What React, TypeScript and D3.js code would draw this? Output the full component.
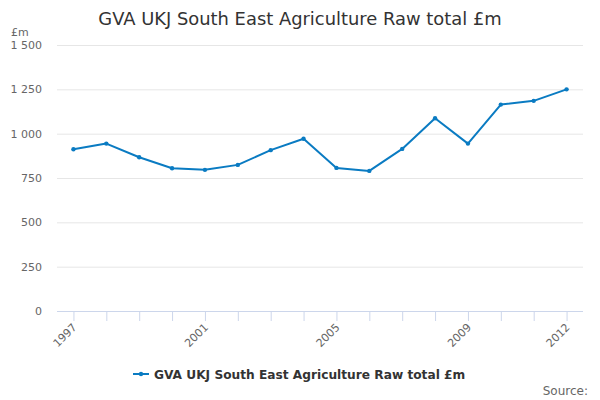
import React from 'react';
import * as d3 from 'd3';

const years = [1997, 1998, 1999, 2000, 2001, 2002, 2003, 2004, 2005, 2006, 2007, 2008, 2009, 2010, 2011, 2012];
const values = [912, 944, 867, 805, 796, 824, 907, 971, 807, 790, 914, 1087, 944, 1164, 1185, 1250];
const labelYears = [1997, 2001, 2005, 2009, 2012];
const yTicks = [0, 250, 500, 750, 1000, 1250, 1500];
const title = 'GVA UKJ South East Agriculture Raw total £m';

const font = '"DejaVu Sans", sans-serif';
const blue = '#0a7bc2';

const fmt = (v: number) => d3.format(',')(v).replace(/,/g, ' ');

export default function App() {
  const margin = { top: 45, right: 17, bottom: 89, left: 57 };
  const width = 600;
  const height = 400;

  const x = d3
    .scalePoint<number>()
    .domain(years)
    .range([margin.left, width - margin.right])
    .padding(0.5);
  const y = d3
    .scaleLinear()
    .domain([0, 1500])
    .range([height - margin.bottom, margin.top]);

  const line = d3
    .line<number>()
    .x((_, i) => x(years[i]) as number)
    .y((d) => y(d));

  const base = y(0);

  return (
    <svg
      width={width}
      height={height}
      style={{ position: 'absolute', left: 0, top: 0, fontFamily: font }}
    >
      <rect width={width} height={height} fill="#fff" />
      <text x={300} y={25} textAnchor="middle" fontSize={17.9} fill="#333">
        {title}
      </text>
      <text x={11} y={36} fontSize={11} fill="#666">
        £m
      </text>

      {yTicks.map((t) => (
        <g key={t}>
          {t > 0 && (
            <line
              x1={margin.left}
              x2={width - margin.right}
              y1={y(t) + 0.5}
              y2={y(t) + 0.5}
              stroke="#e6e6e6"
            />
          )}
          <text x={42} y={y(t) + 4} textAnchor="end" fontSize={11} fill="#666">
            {fmt(t)}
          </text>
        </g>
      ))}

      <line x1={margin.left} x2={width - margin.right} y1={base + 0.5} y2={base + 0.5} stroke="#ccd6eb" />
      {years.map((yr) => (
        <line
          key={yr}
          x1={(x(yr) as number) + 0.5}
          x2={(x(yr) as number) + 0.5}
          y1={base}
          y2={base + 10}
          stroke="#ccd6eb"
        />
      ))}
      {labelYears.map((yr) => {
        const px = x(yr) as number;
        return (
          <text
            key={yr}
            transform={`translate(${px + 4},${base + 17}) rotate(-45)`}
            textAnchor="end"
            fontSize={11}
            fill="#666"
          >
            {yr}
          </text>
        );
      })}

      <path d={line(values) || ''} fill="none" stroke={blue} strokeWidth={2} strokeLinejoin="round" />
      {values.map((v, i) => (
        <circle key={years[i]} cx={x(years[i]) as number} cy={y(v)} r={2.2} fill={blue} />
      ))}

      <g transform="translate(133,374)">
        <line x1={0} x2={16} y1={0} y2={0} stroke={blue} strokeWidth={2} />
        <circle cx={8} cy={0} r={2.2} fill={blue} />
        <text x={21} y={4.5} fontSize={12.2} fontWeight="bold" fill="#333">
          {title}
        </text>
      </g>

      <text x={588} y={395} textAnchor="end" fontSize={12} fill="#666">
        Source:
      </text>
    </svg>
  );
}
